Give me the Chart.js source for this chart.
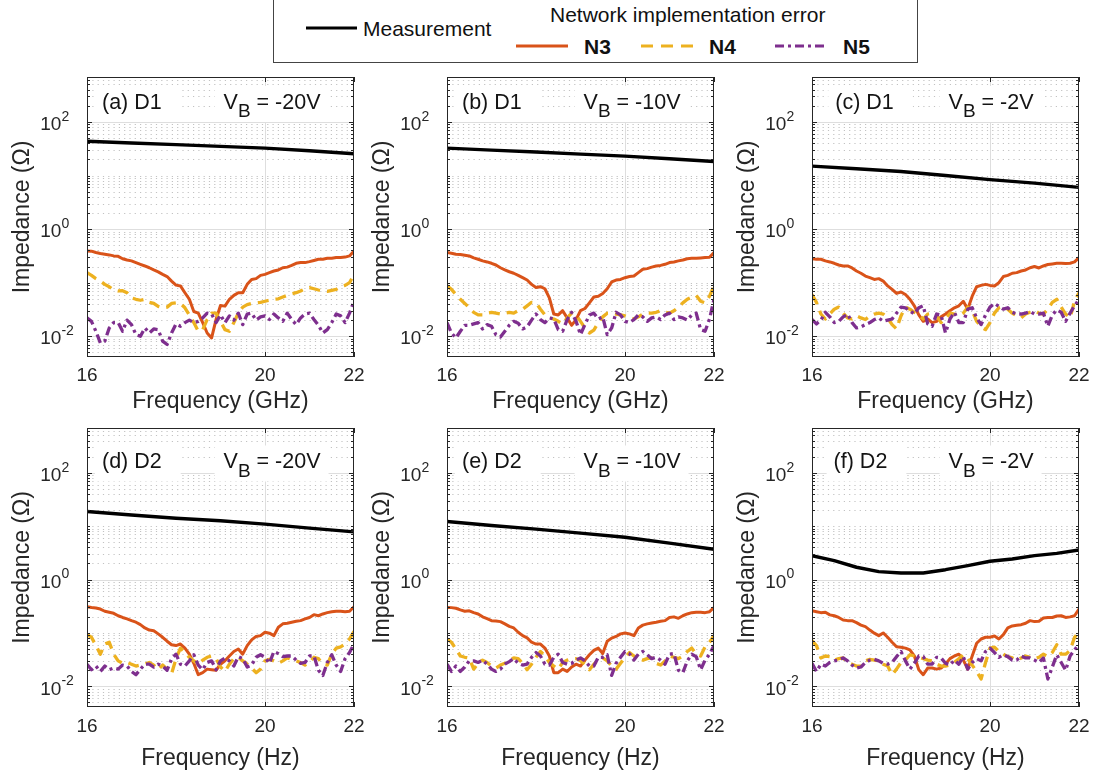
<!DOCTYPE html>
<html><head><meta charset="utf-8">
<script src="https://cdn.jsdelivr.net/npm/chart.js@4.4.1/dist/chart.umd.min.js"></script>
<style>
html,body{margin:0;padding:0;background:#fff;}
body{width:1096px;height:773px;position:relative;overflow:hidden;font-family:"Liberation Sans",Arial,sans-serif;}
canvas{position:absolute;}
#legendBox{position:absolute;left:273px;top:-1px;width:645px;height:64px;border:1px solid #444;box-sizing:border-box;background:#fff;}
.lt{position:absolute;font-size:21px;line-height:24px;height:24px;white-space:nowrap;color:#111;}
.b{font-weight:bold;}
#legendSvg{position:absolute;left:0;top:0;}
</style></head><body>
<div id="legendBox"></div>
<svg id="legendSvg" width="1096" height="70">
  <line x1="306" y1="28" x2="357" y2="28" stroke="#000" stroke-width="3.2"/>
  <line x1="516" y1="46" x2="568" y2="46" stroke="#D95319" stroke-width="3.2"/>
  <line x1="641" y1="46" x2="695" y2="46" stroke="#EDB120" stroke-width="3.2" stroke-dasharray="12 8"/>
  <line x1="775" y1="46" x2="828" y2="46" stroke="#7E2F8E" stroke-width="3.2" stroke-dasharray="9 4 3 4"/>
</svg>
<div class="lt" style="left:363px;top:17px">Measurement</div>
<div class="lt" style="left:550px;top:3px">Network implementation error</div>
<div class="lt b" style="left:584px;top:35px">N3</div>
<div class="lt b" style="left:709px;top:35px">N4</div>
<div class="lt b" style="left:843px;top:35px">N5</div>
<script>
// ---------------- DATA ----------------
const freq = [16.0,16.1,16.2,16.3,16.4,16.5,16.6,16.7,16.8,16.9,
  17.0,17.1,17.2,17.3,17.4,17.5,17.6,17.7,17.8,17.9,
  18.0,18.1,18.2,18.3,18.4,18.5,18.6,18.7,18.8,18.9,
  19.0,19.1,19.2,19.3,19.4,19.5,19.6,19.7,19.8,19.9,
  20.0,20.1,20.2,20.3,20.4,20.5,20.6,20.7,20.8,20.9,
  21.0,21.1,21.2,21.3,21.4,21.5,21.6,21.7,21.8,21.9,
  22.0];
const measFreq = [16,17,18,19,20,21,22];
const measFreqF = [16,16.5,17,17.5,18,18.5,19,19.5,20,20.5,21,21.5,22];
const xTickValues = [16,20,22];
const yTickValues = [0.01,1,100];
const yTickExponents = ['-2','0','2'];

// (a) D1, VB=-20V
const measA = [43.5,40.4,37.7,35.0,32.5,29.0,25.5];
const n3A = [0.39,0.387,0.365,0.35,0.34,0.33,0.316,0.31,0.28,0.265,
  0.255,0.237,0.22,0.205,0.19,0.173,0.159,0.143,0.13,0.107,
  0.09,0.087,0.065,0.049,0.029,0.027,0.018,0.0115,0.0093,0.0205,
  0.0375,0.0365,0.049,0.058,0.065,0.065,0.093,0.115,0.119,0.137,
  0.143,0.154,0.165,0.173,0.19,0.195,0.21,0.23,0.237,0.237,
  0.247,0.26,0.274,0.274,0.286,0.286,0.294,0.294,0.30,0.316,
  0.39];
const n4A = [0.154,0.137,0.119,0.107,0.093,0.084,0.073,0.07,0.071,0.065,
  0.052,0.049,0.047,0.049,0.043,0.041,0.036,0.034,0.035,0.041,
  0.042,0.041,0.034,0.025,0.018,0.0124,0.0133,0.0205,0.027,0.027,
  0.019,0.0133,0.0124,0.018,0.027,0.035,0.039,0.041,0.042,0.043,
  0.045,0.047,0.049,0.05,0.054,0.058,0.062,0.065,0.07,0.077,
  0.081,0.077,0.073,0.07,0.069,0.072,0.075,0.084,0.089,0.1,
  0.143];
const n5A = [0.022,0.019,0.0124,0.0075,0.0081,0.0143,0.018,0.018,0.0124,0.02,
  0.0165,0.0107,0.01,0.0143,0.0115,0.0137,0.0133,0.0081,0.007,0.0115,
  0.017,0.0154,0.018,0.02,0.018,0.019,0.022,0.027,0.026,0.018,
  0.025,0.018,0.024,0.02,0.027,0.0165,0.026,0.027,0.02,0.023,
  0.024,0.0205,0.026,0.022,0.019,0.027,0.0205,0.0165,0.022,0.026,
  0.027,0.0205,0.016,0.0115,0.0133,0.018,0.026,0.024,0.018,0.027,
  0.045];

// (b) D1, VB=-10V
const measB = [32.5,29.8,27.4,25.1,23.0,20.5,18.3];
const n3B = [0.365,0.355,0.34,0.335,0.325,0.316,0.29,0.274,0.255,0.244,
  0.23,0.214,0.19,0.173,0.16,0.15,0.137,0.124,0.112,0.093,
  0.081,0.084,0.077,0.052,0.026,0.025,0.03,0.022,0.016,0.0205,
  0.03,0.033,0.042,0.054,0.056,0.063,0.077,0.103,0.112,0.115,
  0.124,0.13,0.133,0.154,0.178,0.183,0.195,0.205,0.21,0.22,
  0.237,0.244,0.255,0.265,0.28,0.286,0.286,0.29,0.294,0.298,
  0.365];
const n4B = [0.087,0.075,0.06,0.049,0.041,0.034,0.028,0.025,0.025,0.027,
  0.028,0.027,0.026,0.027,0.028,0.027,0.03,0.032,0.037,0.043,
  0.042,0.032,0.025,0.022,0.021,0.019,0.017,0.022,0.027,0.025,
  0.019,0.0143,0.0115,0.013,0.018,0.023,0.027,0.027,0.026,0.025,
  0.024,0.022,0.021,0.023,0.026,0.027,0.027,0.028,0.03,0.028,
  0.027,0.03,0.035,0.042,0.049,0.054,0.058,0.045,0.042,0.056,
  0.087];
const n5B = [0.018,0.0115,0.0093,0.0124,0.016,0.016,0.017,0.018,0.0137,0.0165,
  0.0154,0.0107,0.0097,0.0124,0.016,0.019,0.0175,0.0137,0.015,0.02,
  0.026,0.0205,0.018,0.022,0.021,0.0133,0.0124,0.0205,0.028,0.019,
  0.0107,0.0165,0.025,0.027,0.021,0.023,0.0107,0.0143,0.028,0.025,
  0.019,0.018,0.0205,0.025,0.023,0.019,0.022,0.023,0.0205,0.025,
  0.027,0.0205,0.023,0.022,0.02,0.025,0.027,0.0133,0.0124,0.021,
  0.049];

// (c) D1, VB=-2V
const measC = [15.0,13.4,11.9,10.0,8.4,7.2,6.0];
const n3C = [0.28,0.274,0.274,0.255,0.244,0.23,0.214,0.205,0.205,0.188,
  0.165,0.15,0.133,0.124,0.115,0.119,0.107,0.087,0.075,0.063,
  0.067,0.06,0.049,0.037,0.025,0.019,0.021,0.018,0.019,0.023,
  0.026,0.03,0.034,0.037,0.045,0.032,0.056,0.084,0.089,0.093,
  0.089,0.087,0.1,0.13,0.137,0.15,0.154,0.165,0.173,0.19,
  0.2,0.188,0.205,0.218,0.224,0.23,0.23,0.227,0.23,0.244,
  0.294];
const n4C = [0.06,0.043,0.026,0.021,0.026,0.032,0.035,0.027,0.022,0.021,
  0.024,0.022,0.0205,0.024,0.026,0.027,0.026,0.022,0.0165,0.0137,
  0.024,0.035,0.032,0.028,0.025,0.021,0.026,0.027,0.024,0.018,
  0.021,0.027,0.026,0.024,0.027,0.035,0.03,0.019,0.015,0.0133,
  0.018,0.027,0.034,0.036,0.032,0.027,0.024,0.022,0.026,0.028,
  0.03,0.027,0.026,0.032,0.043,0.049,0.035,0.026,0.022,0.045,
  0.065];
const n5C = [0.0205,0.017,0.02,0.028,0.023,0.018,0.019,0.023,0.026,0.018,
  0.0143,0.015,0.0165,0.018,0.0205,0.022,0.019,0.02,0.021,0.027,
  0.035,0.034,0.03,0.026,0.034,0.037,0.017,0.0154,0.026,0.025,
  0.0115,0.021,0.028,0.018,0.018,0.032,0.034,0.022,0.0165,0.025,
  0.035,0.041,0.036,0.032,0.034,0.028,0.026,0.026,0.027,0.029,
  0.026,0.026,0.027,0.0154,0.025,0.031,0.028,0.019,0.027,0.037,
  0.049];

// (d) D2, VB=-20V
const measD = [18.8,16.2,14.1,12.6,10.9,9.2,7.8];
const n3D = [0.31,0.30,0.294,0.28,0.255,0.244,0.233,0.21,0.195,0.183,
  0.17,0.159,0.143,0.124,0.113,0.11,0.096,0.083,0.07,0.06,
  0.058,0.062,0.052,0.04,0.027,0.0165,0.018,0.021,0.0205,0.02,
  0.026,0.03,0.037,0.045,0.05,0.04,0.058,0.074,0.086,0.089,
  0.103,0.099,0.089,0.128,0.148,0.152,0.159,0.165,0.17,0.183,
  0.195,0.22,0.21,0.227,0.24,0.25,0.255,0.255,0.25,0.255,
  0.31];
const n4D = [0.093,0.083,0.058,0.04,0.062,0.067,0.04,0.03,0.027,0.028,
  0.026,0.024,0.025,0.026,0.028,0.025,0.0205,0.025,0.021,0.0172,
  0.033,0.052,0.043,0.035,0.03,0.026,0.031,0.035,0.037,0.033,
  0.023,0.019,0.026,0.033,0.035,0.03,0.026,0.022,0.018,0.021,
  0.03,0.032,0.03,0.027,0.03,0.034,0.032,0.03,0.028,0.025,
  0.028,0.035,0.033,0.026,0.025,0.04,0.052,0.055,0.062,0.077,
  0.107];
const n5D = [0.026,0.0205,0.024,0.019,0.024,0.0205,0.022,0.021,0.025,0.024,
  0.019,0.0165,0.021,0.026,0.026,0.023,0.026,0.024,0.02,0.033,
  0.04,0.026,0.024,0.03,0.039,0.025,0.0205,0.028,0.03,0.0205,
  0.03,0.034,0.03,0.024,0.036,0.033,0.023,0.025,0.035,0.039,
  0.035,0.027,0.045,0.041,0.036,0.037,0.037,0.031,0.027,0.028,
  0.037,0.037,0.02,0.016,0.028,0.039,0.025,0.019,0.033,0.043,
  0.062];

// (e) D2, VB=-10V
const measE = [12.2,10.3,8.8,7.4,6.2,4.8,3.7];
const n3E = [0.30,0.298,0.29,0.27,0.255,0.26,0.24,0.227,0.20,0.185,
  0.17,0.168,0.163,0.148,0.133,0.124,0.103,0.089,0.081,0.067,
  0.062,0.062,0.052,0.037,0.018,0.018,0.021,0.019,0.023,0.026,
  0.024,0.031,0.039,0.047,0.052,0.041,0.07,0.08,0.086,0.096,
  0.10,0.096,0.089,0.124,0.14,0.148,0.154,0.159,0.165,0.17,
  0.195,0.20,0.188,0.21,0.227,0.24,0.244,0.244,0.24,0.25,
  0.30];
const n4E = [0.077,0.067,0.05,0.037,0.035,0.034,0.021,0.027,0.031,0.028,
  0.024,0.022,0.025,0.027,0.031,0.034,0.033,0.027,0.0205,0.026,
  0.035,0.045,0.037,0.028,0.024,0.021,0.028,0.031,0.033,0.033,
  0.03,0.026,0.0205,0.026,0.031,0.034,0.03,0.024,0.021,0.027,
  0.035,0.043,0.037,0.033,0.031,0.033,0.034,0.027,0.025,0.03,
  0.037,0.035,0.033,0.037,0.045,0.052,0.04,0.037,0.055,0.067,
  0.089];
const n5E = [0.026,0.019,0.024,0.019,0.023,0.03,0.03,0.028,0.031,0.026,
  0.021,0.019,0.021,0.026,0.029,0.033,0.027,0.025,0.026,0.035,
  0.043,0.037,0.026,0.025,0.035,0.04,0.028,0.026,0.027,0.031,
  0.034,0.03,0.024,0.024,0.035,0.035,0.039,0.016,0.027,0.035,
  0.045,0.041,0.031,0.04,0.045,0.039,0.033,0.035,0.031,0.026,
  0.04,0.041,0.02,0.018,0.03,0.04,0.036,0.0205,0.031,0.04,
  0.058];

// (f) D2, VB=-2V
const measF = [2.8,2.26,1.70,1.41,1.33,1.33,1.53,1.82,2.2,2.43,2.8,3.1,3.57];
const n3F = [0.26,0.25,0.24,0.244,0.218,0.21,0.195,0.175,0.17,0.17,
  0.156,0.14,0.131,0.113,0.099,0.089,0.10,0.083,0.067,0.055,
  0.054,0.052,0.048,0.037,0.0205,0.0165,0.022,0.022,0.021,0.022,
  0.026,0.033,0.037,0.04,0.031,0.021,0.037,0.064,0.077,0.083,
  0.083,0.088,0.077,0.093,0.124,0.135,0.139,0.143,0.152,0.17,
  0.163,0.165,0.19,0.195,0.195,0.208,0.21,0.195,0.20,0.21,
  0.28];
const n4F = [0.072,0.058,0.034,0.037,0.036,0.031,0.033,0.034,0.028,0.026,
  0.024,0.024,0.03,0.032,0.031,0.03,0.026,0.024,0.0165,0.021,
  0.028,0.031,0.039,0.037,0.035,0.033,0.031,0.03,0.026,0.024,
  0.024,0.025,0.028,0.033,0.039,0.033,0.025,0.019,0.0137,0.028,
  0.052,0.054,0.045,0.04,0.036,0.034,0.031,0.034,0.037,0.035,
  0.033,0.035,0.04,0.036,0.043,0.06,0.04,0.04,0.047,0.083,
  0.103];
const n5F = [0.027,0.019,0.026,0.024,0.028,0.03,0.031,0.034,0.03,0.025,
  0.022,0.023,0.028,0.031,0.032,0.03,0.027,0.026,0.028,0.036,
  0.045,0.03,0.021,0.027,0.037,0.036,0.026,0.026,0.035,0.034,
  0.027,0.025,0.031,0.026,0.036,0.021,0.028,0.033,0.03,0.045,
  0.052,0.043,0.035,0.039,0.036,0.031,0.031,0.037,0.034,0.034,
  0.031,0.028,0.034,0.0137,0.023,0.039,0.028,0.02,0.037,0.048,
  0.062];

const panelLabels = ['(a) D1','(b) D1','(c) D1','(d) D2','(e) D2','(f) D2'];
const biasLabels = ['-20V','-10V','-2V','-20V','-10V','-2V'];
const xTitles = ['Frequency (GHz)','Frequency (GHz)','Frequency (GHz)','Frequency (Hz)','Frequency (Hz)','Frequency (Hz)'];
const yTitle = 'Impedance (\u03A9)';

// ---------------- STYLE / LAYOUT ----------------
const FONT = '"Liberation Sans", Arial, Helvetica, sans-serif';
const COL = {meas:'#000000', n3:'#D95319', n4:'#EDB120', n5:'#7E2F8E', axis:'#262626'};
const Y_MIN = 0.0041, Y_MAX = 690;
const colLeft = [87, 447, 812];
const rowTop = [77, 428];
const plotW = 267, plotH = [280, 279];
const yAxisW = 87, xAxisH = [62, 70], padTop = 10, padRight = 14;
const labelOffX = [15, 15, 23.3, 15, 15, 21.6];
const textDy = [26, 34.5];
const xTickDy = [18.5, 19.5];

Chart.defaults.font.family = FONT;
Chart.defaults.color = COL.axis;

const panelPlugin = {
  id: 'panel',
  beforeDatasetsDraw(chart, args, o) {
    const {ctx, chartArea: ca, scales: {x, y}} = chart;
    ctx.save();
    ctx.beginPath(); ctx.rect(ca.left, ca.top, ca.width, ca.height); ctx.clip();
    ctx.strokeStyle = '#c2c2c2'; ctx.lineWidth = 1; ctx.setLineDash([1.2, 4.1]);
    for (let e = -3; e <= 2; e++) {
      for (let k = 1; k <= 9; k++) {
        const v = k * Math.pow(10, e);
        if (v < y.min || v > y.max) continue;
        if (k === 1 && yTickValues.includes(v)) continue;
        const py = Math.round(y.getPixelForValue(v)) + 0.5;
        ctx.beginPath(); ctx.moveTo(ca.left, py); ctx.lineTo(ca.right, py); ctx.stroke();
      }
    }
    ctx.setLineDash([]);
    ctx.strokeStyle = '#dedede'; ctx.lineWidth = 1;
    yTickValues.forEach(v => {
      const py = Math.round(y.getPixelForValue(v)) + 0.5;
      ctx.beginPath(); ctx.moveTo(ca.left, py); ctx.lineTo(ca.right, py); ctx.stroke();
    });
    xTickValues.forEach(v => {
      const px = Math.round(x.getPixelForValue(v)) + 0.5;
      ctx.beginPath(); ctx.moveTo(px, ca.top); ctx.lineTo(px, ca.bottom); ctx.stroke();
    });
    ctx.restore();
  },
  afterDatasetsDraw(chart, args, o) {
    const {ctx, chartArea: ca, scales: {x, y}} = chart;
    ctx.save();
    const cy = ca.top + o.dy;
    const x1 = ca.left + o.lx;
    const xv = ca.left + 136.6;
    ctx.font = '21.5px ' + FONT;
    const w1 = ctx.measureText(o.label).width;
    const wV = ctx.measureText('V').width;
    ctx.font = '19px ' + FONT;
    const wB = ctx.measureText('B').width;
    ctx.font = '21.5px ' + FONT;
    const wR = ctx.measureText(' = ' + o.vb).width;
    ctx.fillStyle = '#ffffff';
    ctx.fillRect(x1 - 7, cy - 17, w1 + 26, 36);
    ctx.fillRect(xv - 9, cy - 17, wV + wB + wR + 17, 36);
    ctx.fillStyle = '#141414';
    ctx.textBaseline = 'middle'; ctx.textAlign = 'left';
    ctx.fillText(o.label, x1, cy);
    ctx.fillText('V', xv, cy);
    ctx.font = '19px ' + FONT;
    ctx.fillText('B', xv + wV, cy + 9);
    ctx.font = '21.5px ' + FONT;
    ctx.fillText(' = ' + o.vb, xv + wV + wB, cy);

    ctx.strokeStyle = COL.axis; ctx.lineWidth = 1;
    ctx.strokeRect(Math.round(ca.left) + 0.5, Math.round(ca.top) + 0.5,
                   Math.round(ca.width) - 1, Math.round(ca.height) - 1);
    ctx.beginPath();
    for (let e = -3; e <= 2; e++) {
      for (let k = 1; k <= 9; k++) {
        const v = k * Math.pow(10, e);
        if (v < y.min || v > y.max) continue;
        const len = yTickValues.includes(v) ? 5 : 3;
        const py = Math.round(y.getPixelForValue(v)) + 0.5;
        ctx.moveTo(ca.left, py); ctx.lineTo(ca.left + len, py);
        ctx.moveTo(ca.right, py); ctx.lineTo(ca.right - len, py);
      }
    }
    xTickValues.forEach(v => {
      const px = Math.round(x.getPixelForValue(v)) + 0.5;
      ctx.moveTo(px, ca.bottom); ctx.lineTo(px, ca.bottom - 5);
      ctx.moveTo(px, ca.top); ctx.lineTo(px, ca.top + 5);
    });
    ctx.stroke();

    ctx.fillStyle = COL.axis;
    ctx.textBaseline = 'middle';
    ctx.font = '19px ' + FONT; ctx.textAlign = 'center';
    xTickValues.forEach(v => {
      ctx.fillText(String(v), x.getPixelForValue(v), ca.bottom + o.xtdy);
    });
    ctx.textAlign = 'left';
    yTickValues.forEach((v, i) => {
      const py = y.getPixelForValue(v);
      const lx = ca.left - 46.7;
      ctx.font = '19px ' + FONT;
      ctx.fillText('10', lx, py + 3);
      const w10 = ctx.measureText('10').width;
      ctx.font = '14px ' + FONT;
      ctx.fillText(yTickExponents[i], lx + w10, py - 5);
    });
    ctx.restore();
  }
};

const meas = [measA, measB, measC, measD, measE, measF];
const n3 = [n3A, n3B, n3C, n3D, n3E, n3F];
const n4 = [n4A, n4B, n4C, n4D, n4E, n4F];
const n5 = [n5A, n5B, n5C, n5D, n5E, n5F];

function pts(xs, ys) { return xs.map((v, i) => ({x: v, y: ys[i]})); }

for (let p = 0; p < 6; p++) {
  const r = Math.floor(p / 3), c = p % 3;
  const cv = document.createElement('canvas');
  const W = yAxisW + plotW + padRight;
  const H = padTop + plotH[r] + xAxisH[r];
  cv.width = W; cv.height = H;
  cv.style.left = (colLeft[c] - yAxisW) + 'px';
  cv.style.top = (rowTop[r] - padTop) + 'px';
  cv.style.width = W + 'px'; cv.style.height = H + 'px';
  document.body.appendChild(cv);
  const mx = (p === 5) ? measFreqF : measFreq;
  new Chart(cv.getContext('2d'), {
    type: 'line',
    data: {
      datasets: [
        {label: 'Measurement', data: pts(mx, meas[p]), borderColor: COL.meas, borderWidth: 3.4, order: 4},
        {label: 'N3', data: pts(freq, n3[p]), borderColor: COL.n3, borderWidth: 3, order: 3},
        {label: 'N4', data: pts(freq, n4[p]), borderColor: COL.n4, borderWidth: 3.3, borderDash: [11, 7], order: 2},
        {label: 'N5', data: pts(freq, n5[p]), borderColor: COL.n5, borderWidth: 3.3, borderDash: [9, 4, 3, 4], order: 1}
      ]
    },
    options: {
      responsive: false, animation: false, devicePixelRatio: 1,
      layout: {padding: {left: 0, top: padTop, right: padRight, bottom: 0}},
      elements: {point: {radius: 0, hoverRadius: 0}, line: {tension: 0, fill: false, borderJoinStyle: 'round'}},
      events: [],
      plugins: {
        legend: {display: false}, tooltip: {enabled: false},
        panel: {label: panelLabels[p], vb: biasLabels[p], lx: labelOffX[p], dy: textDy[r], xtdy: xTickDy[r]}
      },
      scales: {
        x: {
          type: 'linear', min: 16, max: 22,
          grid: {display: false}, border: {display: false},
          ticks: {display: false},
          title: {display: true, text: xTitles[p], color: COL.axis, font: {size: 23, family: FONT}, padding: {top: 0, bottom: r === 0 ? 4 : 5}},
          afterFit(s) { s.height = xAxisH[r]; }
        },
        y: {
          type: 'logarithmic', min: Y_MIN, max: Y_MAX,
          grid: {display: false}, border: {display: false},
          ticks: {display: false},
          title: {display: true, text: yTitle, color: COL.axis, font: {size: 23, family: FONT}, padding: {top: 8.5, bottom: 0}},
          afterFit(s) { s.width = yAxisW; }
        }
      }
    },
    plugins: [panelPlugin]
  });
}
</script>
</body></html>
